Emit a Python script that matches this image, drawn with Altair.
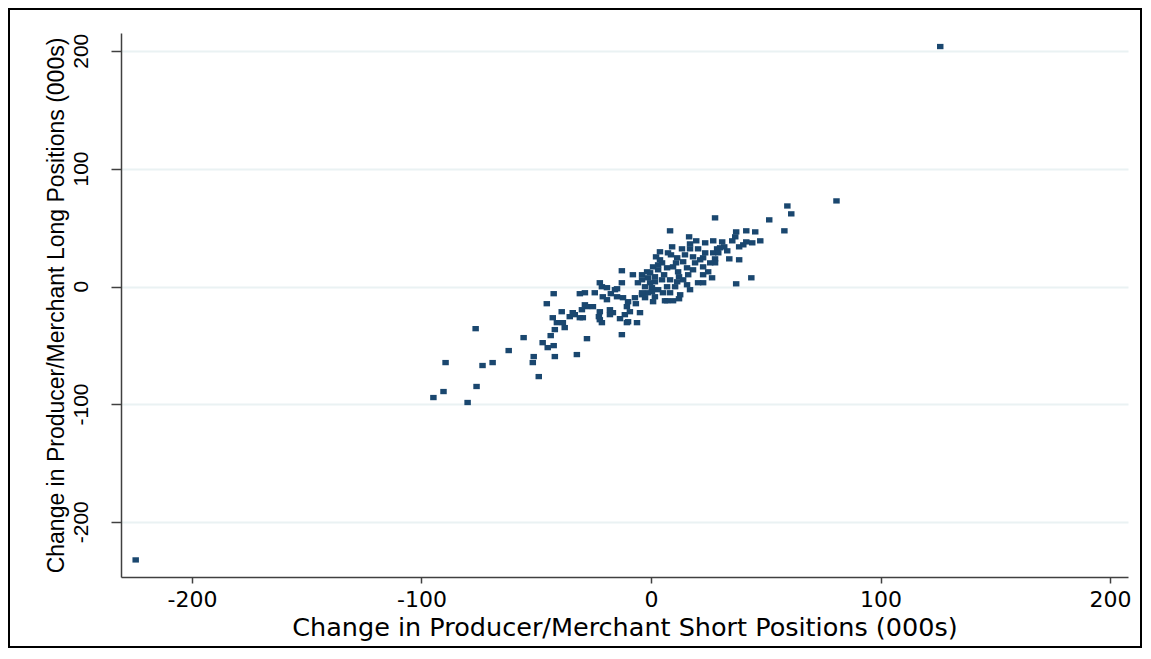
import altair as alt
import pandas as pd

# Change in producer/merchant short positions (000s)
short_chg = [
    126, -224.5, 80.8, 59.4, 61.1, 51.5, 58.1, 41.5, 45.4, 37.1,
    36.7, 27.9, 47.6, 44.1, 41.5, 38.4, 40.2, 35.4, 31.0, 31.9,
    27.1, 23.6, 28.8, 27.1, 30.1, 34.1, 38.4, 27.9, 27.9, 26.6,
    37.1, 43.7, 22.7, 22.7, 22.7, 23.6, 22.7, 8.3, 16.6, 17.0,
    19.7, 9.2, 3.9, 13.5, 17.0, 20.5, 8.7, 7.4, 4.8, 11.4,
    14.0, 18.3, 21.4, 19.2, 25.8, 18.3, 0.9, -1.7, 3.1, 7.0,
    9.6, 11.8, 15.7, 16.2, 14.0, -3.9, -1.3, 1.7, 4.8, 8.3,
    11.4, -2.6, 0.4, 3.1, 7.0, 10.5, -1.3, 1.7, -2.6, 0.9,
    7.0, 9.6, 12.2, 12.7, -3.9, 15.7, -12.7, -7.9, -3.9, -0.4,
    1.7, 3.1, -22.3, -21.4, -12.7, -5.7, 0.4, -28.8, -24.5, -21.0,
    -19.2, -15.7, -14.8, -12.2, -10.0, -7.0, -3.9, -27.9, -30.1, -25.3,
    -22.3, -17.9, -16.6, -10.5, -9.2, -11.4, -4.8, -29.7, -22.3, -13.5,
    -10.0, -6.1, -21.4, -31.0, -42.4, -19.2, -14.8, -45.4, -38.9, -42.8,
    -41.0, -38.4, -35.4, -33.2, -31.0, -34.1, -28.8, -37.6, -41.9, -43.7,
    -22.7, -17.9, -10.5, -12.7, -27.9, -55.5, -47.2, -42.4, -45.0, -41.9,
    -76.4, -62.0, -51.1, -32.3, -51.5, -89.5, -69.0, -73.4, -48.9, -76.0,
    -90.4, -94.8, -79.9, 29.3, 6.1, 3.9, 14.8, -0.4, 5.2, 8.3,
    17.0, 20.5, 5.7, 12.2, 2.2, 24.9, 33.2, 10.9, -6.6, -17.5,
]

# Change in producer/merchant long positions (000s)
long_chg = [
    204, -232, 72.9, 68.6, 61.9, 56.8, 47.5, 47.5, 46.6, 46.6,
    42.4, 58.5, 39.0, 37.3, 38.1, 33.9, 35.6, 39.0, 38.1, 33.9,
    39.0, 37.3, 32.2, 28.8, 33.1, 23.7, 22.9, 23.7, 20.3, 7.6,
    2.5, 7.6, 3.4, 10.2, 16.9, 28.8, 24.6, 47.5, 42.4, 36.4,
    39.0, 33.9, 29.7, 32.2, 32.2, 32.2, 27.1, 28.8, 20.3, 24.6,
    21.2, 25.4, 22.9, 20.3, 20.3, 14.4, 16.9, 12.7, 14.4, 16.1,
    16.9, 12.7, 16.1, 10.2, 5.9, 5.9, 7.6, 4.2, 5.9, 5.9,
    4.2, 0.0, -0.8, -2.5, 0.0, 0.0, -5.1, -8.5, -9.3, -12.7,
    -11.9, -11.9, -10.2, -6.8, -6.8, 1.7, 13.6, 10.2, 10.2, 11.9,
    8.5, 18.6, 3.4, 0.0, 3.4, 3.4, -4.2, -5.1, -5.1, -8.5,
    -11.0, -2.5, -8.5, -9.3, -12.7, -9.3, -5.1, -16.9, -19.5, -16.9,
    -21.2, -19.5, -22.0, -16.9, -21.2, -23.7, -22.0, -26.3, -28.0, -27.1,
    -29.7, -30.5, -30.5, -5.9, -5.9, -0.8, -1.7, -14.4, -21.2, -26.3,
    -30.5, -30.5, -25.4, -23.7, -26.3, -22.0, -15.3, -34.7, -36.4, -41.5,
    -25.4, -23.7, -30.5, -40.7, -44.1, -43.2, -47.5, -50.0, -51.7, -59.3,
    -35.6, -54.2, -59.3, -57.6, -64.4, -64.4, -64.4, -66.9, -76.3, -84.7,
    -89.0, -94.1, -98.3, 28.8, -11.9, 22.9, 27.1, 3.4, -5.1, -5.1,
    -2.5, 3.4, 10.2, 8.5, 25.4, 12.7, 30.5, 20.3, -14.4, -5.9,
]

tick_values = [-200, -100, 0, 100, 200]
tick_labels = ["-200", "-100", "0", "100", "200"]
x_title = "Change in Producer/Merchant Short Positions (000s)"
y_title = "Change in Producer/Merchant Long Positions (000s)"

df = pd.DataFrame({"short": short_chg, "long": long_chg})
ylab_df = pd.DataFrame({"long": tick_values, "lab": tick_labels})

W, H = 1007, 544
PAD_L, PAD_T, PAD_R, PAD_B = 113, 25, 14, 71

x_scale = alt.Scale(domain=[-230.9, 207.8], nice=False, zero=False)
y_scale = alt.Scale(domain=[-246.5, 215.5], nice=False, zero=False)

y_axis = alt.Axis(
    values=tick_values,
    grid=True,
    gridColor="#eaf2f3",
    gridWidth=2,
    labels=False,
    tickSize=10,
    tickWidth=1.5,
    tickColor="#404040",
    domainColor="#404040",
    domainWidth=1.5,
    title=y_title,
    titleFont="Liberation Sans",
    titleFontSize=23,
    titleFontWeight="normal",
    titleColor="black",
    titleAngle=270,
    titleAlign="center",
    titleBaseline="alphabetic",
    titleX=-58,
    titleY=272,
)

points = alt.Chart(df).mark_point(
    shape="M-1,-0.82H1V0.82H-1Z", size=42, filled=True, color="#1a476f", opacity=1
).encode(
    x=alt.X(
        "short:Q",
        scale=x_scale,
        axis=alt.Axis(
            values=tick_values,
            grid=False,
            labelExpr="'' + datum.value",
            labelFont="DejaVu Sans",
            labelFontSize=22,
            labelColor="black",
            labelPadding=6,
            tickSize=6,
            tickWidth=1.5,
            tickColor="#404040",
            domainColor="#404040",
            domainWidth=1.5,
            title=x_title,
            titleFont="DejaVu Sans",
            titleFontSize=25.5,
            titleFontWeight="normal",
            titleColor="black",
            titleBaseline="alphabetic",
            titleY=58,
        ),
    ),
    y=alt.Y("long:Q", scale=y_scale, axis=y_axis),
)

ylabels = alt.Chart(ylab_df).mark_text(
    angle=270,
    align="center",
    baseline="alphabetic",
    font="Liberation Sans",
    fontSize=21,
    color="black",
).encode(
    x=alt.value(-33),
    y=alt.Y("long:Q", scale=y_scale, axis=y_axis),
    text="lab:N",
)

frame = alt.Chart(pd.DataFrame({"f": [0]})).mark_rect(
    fill=None, stroke="black", strokeWidth=2
).encode(
    x=alt.value(-PAD_L + 1),
    x2=alt.value(W + PAD_R - 1),
    y=alt.value(-PAD_T + 1),
    y2=alt.value(H + PAD_B - 1),
)

chart = alt.layer(points, ylabels, frame).properties(
    width=W,
    height=H,
    autosize=alt.AutoSizeParams(type="none"),
    padding={"left": PAD_L, "top": PAD_T, "right": PAD_R, "bottom": PAD_B},
    background="white",
).configure_view(stroke=None)

chart.save("out.html", embed_options={"renderer": "svg", "actions": False})
